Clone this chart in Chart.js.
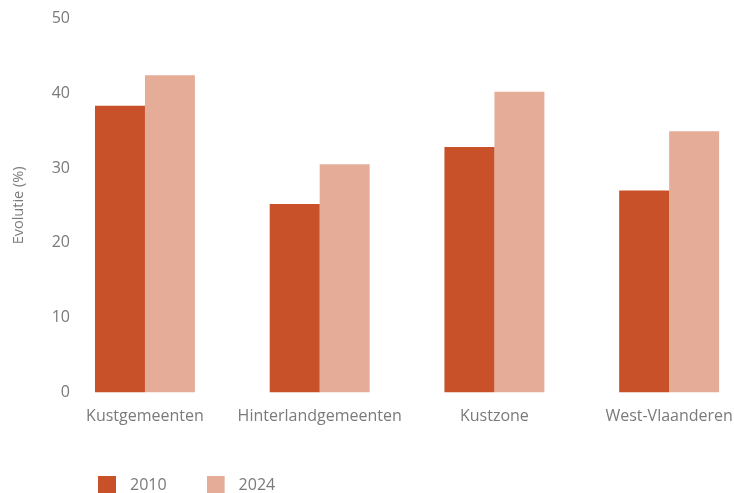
<!DOCTYPE html>
<html>
<head>
<meta charset="utf-8">
<title>Evolutie</title>
<script src="https://cdn.jsdelivr.net/npm/chart.js@4.4.1/dist/chart.umd.min.js"></script>
<style>
  html, body { margin: 0; padding: 0; background: #fff; }
  #wrap { width: 734px; height: 493px; overflow: hidden; }
  canvas { display: block; }
</style>
</head>
<body>
<div id="wrap"><canvas id="evolutie" width="780" height="503"></canvas></div>
<script>
var regions = ["Kustgemeenten", "Hinterlandgemeenten", "Kustzone", "West-Vlaanderen"];
var years = ["2010", "2024"];
var values2010 = [38.3, 25.2, 32.8, 27.0];
var values2024 = [42.4, 30.5, 40.2, 34.9];
var yTicks = [0, 10, 20, 30, 40, 50];

var colors = ["#C9512A", "#E5AC98"];
var grey = "#7a7a7a";
var family = "'Open Sans', 'Noto Sans', sans-serif";

// square swatch on a wider transparent strip -> more room between box and text
function swatch(color) {
    var c = document.createElement("canvas");
    c.width = 24;
    c.height = 18;
    var g = c.getContext("2d");
    g.fillStyle = color;
    g.fillRect(0, 0, 18, 18);
    return c;
}
var swatches = colors.map(swatch);

// legend starts under the first bar; y labels sit a bit right of the axis box
var nudge = {
    id: "nudge",
    afterLayout: function (chart) {
        chart.legend.left = 98 - chart.options.plugins.legend.labels.padding;
        chart.scales.y.right = 72;
    }
};

var ctx = document.getElementById("evolutie");
var chart = new Chart(ctx, {
    type: "bar",
    data: {
        labels: regions,
        datasets: [{
            label: years[0],
            data: values2010,
            backgroundColor: colors[0],
            borderWidth: 0
        }, {
            label: years[1],
            data: values2024,
            backgroundColor: colors[1],
            borderWidth: 0
        }]
    },
    options: {
        responsive: false,
        animation: false,
        devicePixelRatio: 1,
        categoryPercentage: 0.572,
        barPercentage: 1.0,
        layout: {
            padding: { top: 18.3, right: 23.5, bottom: 0, left: 0 }
        },
        scales: {
            x: {
                grid: { display: false },
                border: { display: false },
                ticks: {
                    color: grey,
                    font: { family: family, size: 16 },
                    padding: 6.5,
                    maxRotation: 0
                },
                afterFit: function (axis) { axis.height = 44.5; }
            },
            y: {
                min: 0,
                max: 50,
                grid: { display: false, drawTicks: false },
                border: { display: false },
                ticks: {
                    color: grey,
                    font: { family: family, size: 16 },
                    padding: 2
                },
                afterBuildTicks: function (axis) {
                    axis.ticks = yTicks.map(function (v) { return { value: v }; });
                },
                title: {
                    display: true,
                    text: "Evolutie (%)",
                    color: grey,
                    font: { family: family, size: 14.5 },
                    padding: { top: 10, bottom: 0 }
                },
                afterFit: function (axis) { axis.width = 57.6; }
            }
        },
        plugins: {
            tooltip: { enabled: false },
            legend: {
                position: "bottom",
                align: "start",
                labels: {
                    usePointStyle: true,
                    pointStyleWidth: 24,
                    padding: 40,
                    color: grey,
                    font: { family: family, size: 16 },
                    generateLabels: function (chart) {
                        var items = Chart.defaults.plugins.legend.labels.generateLabels(chart);
                        items.forEach(function (item) {
                            item.pointStyle = swatches[item.datasetIndex];
                        });
                        return items;
                    }
                }
            }
        }
    },
    plugins: [nudge]
});
</script>
</body>
</html>
